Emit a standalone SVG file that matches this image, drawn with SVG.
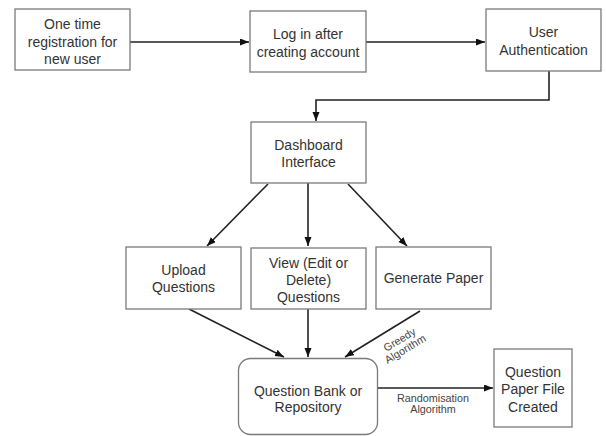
<svg xmlns="http://www.w3.org/2000/svg" width="606" height="436" viewBox="0 0 606 436">
<style>
.box{fill:#fff;stroke:#7a7a7a;stroke-width:1.3}
.t{font-family:"Liberation Sans",Arial,sans-serif;font-size:14px;fill:#333;text-anchor:middle}
.s{font-family:"Liberation Sans",Arial,sans-serif;font-size:10.8px;fill:#444;text-anchor:middle}
.c{fill:none;stroke:#222;stroke-width:1.6}
</style>
<defs>
<marker id="ah" markerUnits="userSpaceOnUse" markerWidth="10" markerHeight="8" refX="9" refY="3.5" orient="auto">
<path d="M0,0 L9,3.5 L0,7 z" fill="#111"/>
</marker>
</defs>
<rect width="606" height="436" fill="#fff"/>
<g id="connectors">
<path class="c" d="M130,42 H249" marker-end="url(#ah)"/>
<path class="c" d="M366,42 H485" marker-end="url(#ah)"/>
<path class="c" d="M549,71 V100 H316 V121" marker-end="url(#ah)"/>
<path class="c" d="M268,184 L207,246" marker-end="url(#ah)"/>
<path class="c" d="M308,183 V246" marker-end="url(#ah)"/>
<path class="c" d="M348,184 L407,246" marker-end="url(#ah)"/>
<path class="c" d="M189,309 L284,357" marker-end="url(#ah)"/>
<path class="c" d="M308,309 V357" marker-end="url(#ah)"/>
<path class="c" d="M420,311 L345,357" marker-end="url(#ah)"/>
<path class="c" d="M378,388 H493" marker-end="url(#ah)"/>
<g transform="translate(402.5,344.5) rotate(-31)">
<text class="s" x="0" y="-2">Greedy</text>
<text class="s" x="0" y="9">Algorithm</text>
</g>
<text class="s" x="433" y="402">Randomisation</text>
<text class="s" x="433" y="413">Algorithm</text>
</g>
<g id="registration">
<rect class="box" x="15" y="9" width="115" height="61"/>
<text class="t" x="72.5" y="29">One time</text>
<text class="t" x="72.5" y="47">registration for</text>
<text class="t" x="72.5" y="64">new user</text>
</g>
<g id="login">
<rect class="box" x="250" y="11" width="116" height="61"/>
<text class="t" x="308" y="39">Log in after</text>
<text class="t" x="308" y="57">creating account</text>
</g>
<g id="auth">
<rect class="box" x="486" y="9" width="115" height="62"/>
<text class="t" x="543.5" y="37">User</text>
<text class="t" x="543.5" y="55">Authentication</text>
</g>
<g id="dashboard">
<rect class="box" x="251" y="122" width="115" height="61"/>
<text class="t" x="308.5" y="150">Dashboard</text>
<text class="t" x="308.5" y="167">Interface</text>
</g>
<g id="upload">
<rect class="box" x="126" y="247" width="115" height="62"/>
<text class="t" x="183.5" y="275">Upload</text>
<text class="t" x="183.5" y="292">Questions</text>
</g>
<g id="view">
<rect class="box" x="251" y="248" width="115" height="61"/>
<text class="t" x="308.5" y="268">View (Edit or</text>
<text class="t" x="308.5" y="285">Delete)</text>
<text class="t" x="308.5" y="302">Questions</text>
</g>
<g id="generate">
<rect class="box" x="376" y="247" width="115" height="62"/>
<text class="t" x="433.5" y="283">Generate Paper</text>
</g>
<g id="bank">
<rect class="box" x="238.5" y="358.5" width="139" height="76" rx="12"/>
<text class="t" x="308" y="396">Question Bank or</text>
<text class="t" x="308" y="412">Repository</text>
</g>
<g id="paperfile">
<rect class="box" x="494" y="349" width="78" height="78"/>
<text class="t" x="533" y="377">Question</text>
<text class="t" x="533" y="394">Paper File</text>
<text class="t" x="533" y="412">Created</text>
</g>
</svg>
